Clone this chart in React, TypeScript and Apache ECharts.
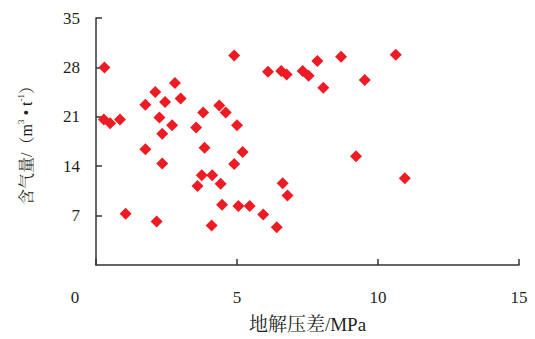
import React, { useEffect, useRef } from "react";
import * as echarts from "echarts";

const pressureDiff: number[] = [
  0.3, 4.9, 2.8, 2.1, 3.0, 2.45, 1.75, 4.37, 4.6, 3.8, 2.25, 0.28, 0.5, 0.85, 2.7, 3.55, 5.0,
  2.35, 1.75, 3.85, 5.2, 2.35, 4.9, 3.75, 4.12, 3.6, 4.42, 4.47, 5.05, 5.45, 1.05, 2.15, 4.1,
  6.1, 6.57, 6.76, 7.33, 7.54, 7.85, 8.69, 10.63, 8.06, 9.53, 6.62, 6.79, 5.93, 6.41, 9.22, 10.95,
];
const gasContent: number[] = [
  28.0, 29.7, 25.8, 24.5, 23.6, 23.1, 22.7, 22.6, 21.6, 21.6, 20.9, 20.6, 20.1, 20.6, 19.8, 19.5, 19.8,
  18.6, 16.4, 16.6, 16.0, 14.4, 14.3, 12.7, 12.7, 11.2, 11.5, 8.55, 8.36, 8.36, 7.25, 6.15, 5.6,
  27.4, 27.5, 27.0, 27.5, 26.8, 28.9, 29.5, 29.8, 25.1, 26.2, 11.6, 9.85, 7.16, 5.36, 15.4, 12.3,
];
const xTicks: number[] = [0, 5, 10, 15];
const yTicks: number[] = [0, 7, 14, 21, 28, 35];
const xTitle = "地解压差/MPa";

const FONT = "'Liberation Serif', 'Noto Serif CJK SC', 'Noto Sans CJK SC', serif";
const TEXT = "#231f20";

export default function App() {
  const ref = useRef<HTMLDivElement>(null);
  useEffect(() => {
    if (!ref.current) return;
    document.body.style.margin = "0";
    document.body.style.overflow = "hidden";
    const chart = echarts.init(ref.current, undefined, { renderer: "svg" });
    const points = pressureDiff.map((x, i) => [x, gasContent[i]]);
    chart.setOption({
      animation: false,
      backgroundColor: "#ffffff",
      grid: { left: 96, right: 16, top: 18, bottom: 68, containLabel: false },
      xAxis: {
        type: "value",
        min: xTicks[0],
        max: xTicks[xTicks.length - 1],
        interval: xTicks[1] - xTicks[0],
        name: xTitle,
        nameLocation: "middle",
        nameGap: 50,
        nameTextStyle: { fontFamily: FONT, fontSize: 19, color: TEXT },
        axisLine: { lineStyle: { color: "#333", width: 1.5 } },
        axisTick: { inside: true, length: 6, lineStyle: { color: "#333", width: 1.5 } },
        splitLine: { show: false },
        axisLabel: {
          margin: 24,
          fontFamily: FONT,
          fontSize: 17,
          color: TEXT,
          formatter: (v: number) => (v === 0 ? "{z|0}" : String(v)),
          rich: { z: { fontFamily: FONT, fontSize: 17, color: TEXT, padding: [0, 42, 0, 0] } },
        },
      },
      yAxis: {
        type: "value",
        min: yTicks[0],
        max: yTicks[yTicks.length - 1],
        interval: yTicks[1] - yTicks[0],
        name: "{a|含气量/（m}{s|3}{a| • t}{s|-1}{a|）}",
        nameLocation: "middle",
        nameRotate: 90,
        nameGap: 60,
        nameTextStyle: {
          fontFamily: FONT,
          fontSize: 16,
          color: TEXT,
          rich: {
            a: { fontFamily: FONT, fontSize: 16, color: TEXT, lineHeight: 20 },
            s: { fontFamily: FONT, fontSize: 9, color: TEXT, verticalAlign: "top", lineHeight: 20 },
          },
        },
        axisLine: { lineStyle: { color: "#333", width: 1.5 } },
        axisTick: { inside: true, length: 6, lineStyle: { color: "#333", width: 1.5 } },
        splitLine: { show: false },
        axisLabel: {
          showMinLabel: false,
          margin: 16,
          fontFamily: FONT,
          fontSize: 17,
          color: TEXT,
        },
      },
      series: [
        {
          type: "scatter",
          symbol: "diamond",
          symbolSize: 12,
          itemStyle: { color: "#ed1c24", opacity: 1 },
          data: points,
        },
      ],
    });
    return () => chart.dispose();
  }, []);
  return <div ref={ref} style={{ width: "100vw", height: "100vh", background: "#fff" }} />;
}
